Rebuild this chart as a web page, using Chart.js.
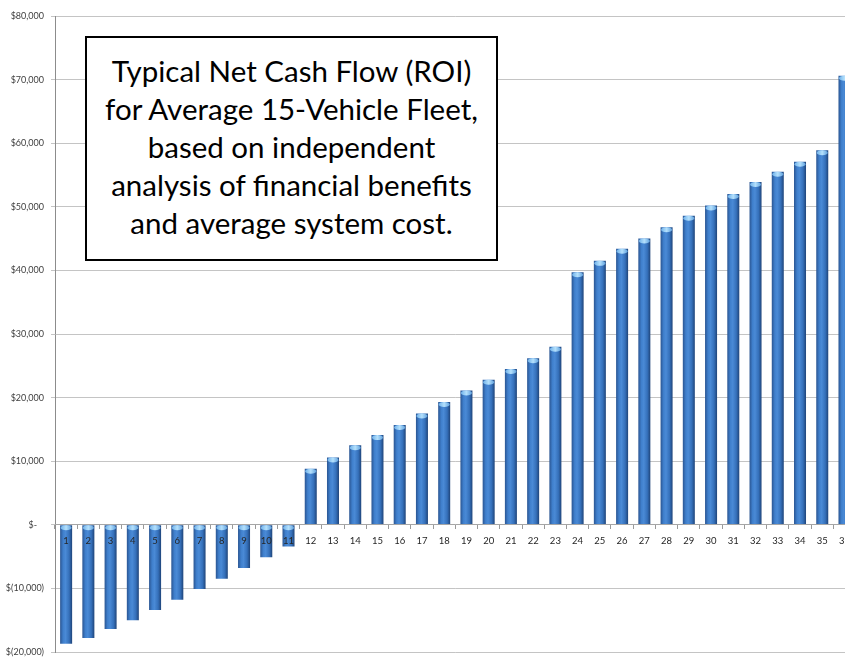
<!DOCTYPE html>
<html>
<head>
<meta charset="utf-8">
<script src="https://cdn.jsdelivr.net/npm/chart.js@4/dist/chart.umd.min.js"></script>
<style>
  html, body { margin: 0; padding: 0; background: #ffffff; overflow: hidden; width: 845px; height: 658px; }
  #wrap { position: absolute; left: 0; top: 0; width: 856px; height: 658px; }
  #note {
    position: absolute; left: 85px; top: 36px; width: 409px; height: 207px; padding-top: 14px;
    border: 2px solid #000; background: #fff; box-sizing: content-box;
    font-family: Lato, "Open Sans", sans-serif; font-size: 29.5px; line-height: 38px;
    color: #000; text-align: center;
  }
</style>
</head>
<body>
<div id="wrap"><canvas id="c" width="856" height="658"></canvas></div>
<div id="note"></div>
<script>
const categories = ['1','2','3','4','5','6','7','8','9','10','11','12','13','14','15','16','17','18',
  '19','20','21','22','23','24','25','26','27','28','29','30','31','32','33','34','35','36'];
const netCashFlow = [-18700, -17800, -16400, -15000, -13400, -11800, -10100, -8500, -6800, -5100, -3400,
  8800, 10600, 12500, 14100, 15700, 17500, 19300, 21100, 22800, 24500, 26200, 28000,
  39700, 41500, 43400, 45000, 46800, 48600, 50200, 52000, 53900, 55500, 57100, 58900, 70600];
const yTickValues = [-20000, -10000, 0, 10000, 20000, 30000, 40000, 50000, 60000, 70000, 80000];
const yTickLabels = ['$(20,000)', '$(10,000)', '$-   ', '$10,000', '$20,000', '$30,000', '$40,000',
  '$50,000', '$60,000', '$70,000', '$80,000'];
const annotationLines = ['Typical Net Cash Flow (ROI)', 'for Average 15-Vehicle Fleet,',
  'based on independent', 'analysis of financial benefits', 'and average system cost.'];

const note = document.getElementById('note');
annotationLines.forEach(t => { const d = document.createElement('div'); d.textContent = t; note.appendChild(d); });

const BAR_PCT = 0.54;

function barFill(ctx) {
  const chart = ctx.chart;
  const xs = chart.scales && chart.scales.x;
  if (!xs || ctx.type !== 'data' || !isFinite(xs.width)) return '#3a75c0';
  const cx = xs.getPixelForValue(ctx.dataIndex);
  const w = xs.width / categories.length * BAR_PCT;
  const g = chart.ctx.createLinearGradient(cx - w / 2, 0, cx + w / 2, 0);
  g.addColorStop(0, '#2a5592');
  g.addColorStop(0.25, '#3f7fcc');
  g.addColorStop(0.45, '#4a8ad6');
  g.addColorStop(0.75, '#3570ba');
  g.addColorStop(1, '#1f4479');
  return g;
}

const capPlugin = {
  id: 'caps',
  afterDatasetsDraw(chart) {
    const c = chart.ctx;
    const meta = chart.getDatasetMeta(0);
    meta.data.forEach(el => {
      const top = Math.min(el.y, el.base);
      const w = el.width;
      c.save();
      const g = c.createLinearGradient(el.x - w / 2, 0, el.x + w / 2, 0);
      g.addColorStop(0, '#6aaee8');
      g.addColorStop(0.5, '#b4e0fc');
      g.addColorStop(1, '#5a9ddc');
      c.fillStyle = g;
      c.beginPath();
      c.ellipse(el.x, top + 2.5, w / 2 - 0.5, 2.5, 0, 0, Math.PI * 2);
      c.fill();
      c.restore();
    });
  }
};

new Chart(document.getElementById('c'), {
  type: 'bar',
  data: {
    labels: categories,
    datasets: [{
      data: netCashFlow,
      backgroundColor: barFill,
      borderWidth: 0,
      barPercentage: BAR_PCT,
      categoryPercentage: 1.0
    }]
  },
  options: {
    responsive: false,
    animation: false,
    events: [],
    layout: { padding: { left: 0, right: 0, top: 16, bottom: 6 } },
    plugins: { legend: { display: false }, tooltip: { enabled: false } },
    scales: {
      x: {
        type: 'category',
        position: { y: 0 },
        offset: true,
        grid: { display: true, drawOnChartArea: false, drawTicks: true, tickLength: 4, offset: true, color: '#9a9a9a', z: 1 },
        border: { display: true, color: '#a6a6a6', width: 1, z: 1 },
        ticks: { z: 2, color: '#262626', font: { family: 'Lato', size: 9.5 }, padding: 6, maxRotation: 0, autoSkip: false }
      },
      y: {
        min: -20000, max: 80000,
        afterFit(scale) { scale.width = 55; scale.paddingTop = 0; scale.paddingBottom = 0; },
        afterBuildTicks(scale) { scale.ticks = yTickValues.map(v => ({ value: v })); },
        grid: { color: '#c4c4c4', lineWidth: 1, tickLength: 4, drawTicks: true },
        border: { display: true, color: '#8c8c8c', width: 1 },
        ticks: {
          color: '#404040', font: { family: 'Lato', size: 9 }, padding: 7,
          callback: (v, i) => yTickLabels[yTickValues.indexOf(v)]
        }
      }
    }
  },
  plugins: [capPlugin]
});
</script>
</body>
</html>
